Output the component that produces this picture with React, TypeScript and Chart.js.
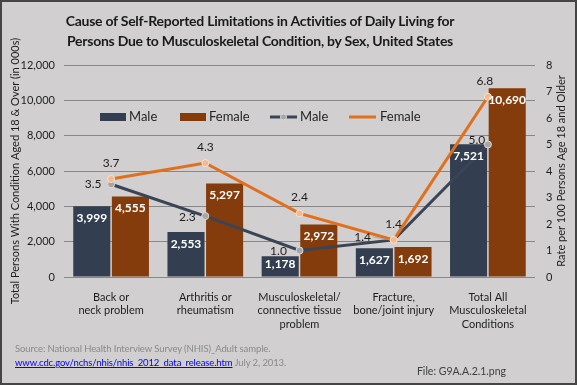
import React, { useEffect, useRef } from 'react';
import { Chart, registerables } from 'chart.js';

Chart.register(...registerables);

const categories: string[][] = [
  ['Back or', 'neck problem'],
  ['Arthritis or', 'rheumatism'],
  ['Musculoskeletal/', 'connective tissue', 'problem'],
  ['Fracture,', 'bone/joint injury'],
  ['Total All', 'Musculoskeletal', 'Conditions'],
];
const maleCounts = [3999, 2553, 1178, 1627, 7521];
const femaleCounts = [4555, 5297, 2972, 1692, 10690];
const maleRates = [3.5, 2.3, 1.0, 1.4, 5.0];
const femaleRates = [3.7, 4.3, 2.4, 1.4, 6.8];
const countAxisMax = 12000;
const countAxisStep = 2000;
const rateAxisMax = 8;
const rateAxisStep = 1;

const FONT = 'Lato, "Noto Sans", sans-serif';
const MALE_BAR = '#333f50';
const FEMALE_BAR = '#843c0c';
const MALE_LINE = '#3a4457';
const FEMALE_LINE = '#e0701e';
const TEXT = '#1e1e1e';

// label offsets for male rate labels (dx, dy) relative to point
const maleLabelOffsets = [[-18, 0], [-18, 1], [-21, 1], [-31, -3], [-11, -4]];

const labelPlugin = {
  id: 'customLabels',
  afterDatasetsDraw(chart: any) {
    const ctx = chart.ctx;
    ctx.save();
    ctx.textAlign = 'center';
    ctx.textBaseline = 'middle';
    // bar labels
    [0, 1].forEach((di) => {
      const meta = chart.getDatasetMeta(di);
      const data = chart.data.datasets[di].data as number[];
      meta.data.forEach((el: any, i: number) => {
        ctx.font = `bold 12px ${FONT}`;
        ctx.fillStyle = '#ffffff';
        const y = Math.min(el.y + 12, el.base - 12);
        ctx.fillText(data[i].toLocaleString('en-US'), el.x, y);
      });
    });
    // line labels
    ctx.font = `12px ${FONT}`;
    ctx.fillStyle = TEXT;
    const mMeta = chart.getDatasetMeta(2);
    mMeta.data.forEach((el: any, i: number) => {
      const [dx, dy] = maleLabelOffsets[i];
      ctx.fillText(maleRates[i].toFixed(1), el.x + dx, el.y + dy);
      if (i === 3) {
        ctx.strokeStyle = '#a0a0a0';
        ctx.lineWidth = 0.8;
        ctx.beginPath();
        ctx.moveTo(el.x + dx + 10, el.y + dy);
        ctx.lineTo(el.x - 4, el.y);
        ctx.stroke();
      }
    });
    const fMeta = chart.getDatasetMeta(3);
    fMeta.data.forEach((el: any, i: number) => {
      const dx = i === 4 ? -3 : 0;
      ctx.fillText(femaleRates[i].toFixed(1), el.x + dx, el.y - 16);
    });
    ctx.restore();
  },
  afterDraw(chart: any) {
    const ctx = chart.ctx;
    const area = chart.chartArea;
    const y = area.top + 52;
    ctx.save();
    ctx.font = `13px ${FONT}`;
    ctx.fillStyle = '#262626';
    ctx.textBaseline = 'middle';
    ctx.textAlign = 'left';
    // Male bar
    ctx.fillStyle = MALE_BAR;
    ctx.fillRect(100, y - 4, 26, 8);
    ctx.fillStyle = '#262626';
    ctx.fillText('Male', 129, y);
    // Female bar
    ctx.fillStyle = FEMALE_BAR;
    ctx.fillRect(180, y - 4, 26, 8);
    ctx.fillStyle = '#262626';
    ctx.fillText('Female', 209, y);
    // Male line
    ctx.strokeStyle = MALE_LINE;
    ctx.lineWidth = 3;
    ctx.beginPath();
    ctx.moveTo(270, y);
    ctx.lineTo(297, y);
    ctx.stroke();
    ctx.fillStyle = '#a6a6a6';
    ctx.strokeStyle = '#d9d9d9';
    ctx.lineWidth = 1;
    ctx.beginPath();
    ctx.arc(283.5, y, 3, 0, Math.PI * 2);
    ctx.fill();
    ctx.stroke();
    ctx.fillStyle = '#262626';
    ctx.fillText('Male', 300, y);
    // Female line
    ctx.strokeStyle = FEMALE_LINE;
    ctx.lineWidth = 3;
    ctx.beginPath();
    ctx.moveTo(349, y);
    ctx.lineTo(376, y);
    ctx.stroke();
    ctx.fillStyle = '#262626';
    ctx.fillText('Female', 380, y);
    // right axis title (reads bottom to top)
    ctx.translate(561, (area.top + area.bottom) / 2);
    ctx.rotate(-Math.PI / 2);
    ctx.font = `11px ${FONT}`;
    ctx.fillStyle = TEXT;
    ctx.textAlign = 'center';
    ctx.fillText('Rate per 100 Persons Age 18 and Older', 0, 0);
    ctx.restore();
  },
};

export default function App() {
  const ref = useRef<HTMLCanvasElement>(null);
  useEffect(() => {
    if (!ref.current) return;
    const chart = new Chart(ref.current, {
      type: 'bar',
      data: {
        labels: categories as any,
        datasets: [
          {
            type: 'bar',
            label: 'Male',
            data: maleCounts,
            backgroundColor: MALE_BAR,
            yAxisID: 'y',
            order: 3,
            barPercentage: 0.96,
            categoryPercentage: 0.82,
          },
          {
            type: 'bar',
            label: 'Female',
            data: femaleCounts,
            backgroundColor: FEMALE_BAR,
            yAxisID: 'y',
            order: 3,
            barPercentage: 0.96,
            categoryPercentage: 0.82,
          },
          {
            type: 'line',
            label: 'Male',
            data: maleRates,
            borderColor: MALE_LINE,
            borderWidth: 3,
            pointRadius: 3.5,
            pointBackgroundColor: '#a6a6a6',
            pointBorderColor: '#dcdcdc',
            pointBorderWidth: 1,
            yAxisID: 'y1',
            order: 2,
            tension: 0,
          } as any,
          {
            type: 'line',
            label: 'Female',
            data: femaleRates,
            borderColor: FEMALE_LINE,
            borderWidth: 3,
            pointRadius: 3.5,
            pointBackgroundColor: '#f6b98e',
            pointBorderColor: '#fbe0cc',
            pointBorderWidth: 1,
            yAxisID: 'y1',
            order: 1,
            tension: 0,
          } as any,
        ],
      },
      options: {
        responsive: false,
        animation: false,
        devicePixelRatio: 1,
        layout: { padding: { top: 65, bottom: 48, left: 0, right: 0 } },
        plugins: {
          legend: { display: false },
          tooltip: { enabled: false },
          title: { display: false },
        },
        scales: {
          x: {
            grid: { display: false },
            border: { display: false },
            ticks: {
              color: TEXT,
              font: { family: FONT, size: 11 },
              padding: 6,
              maxRotation: 0,
              autoSkip: false,
            },
            afterFit(scale: any) {
              scale.height = 60;
            },
          },
          y: {
            position: 'left',
            min: 0,
            max: countAxisMax,
            ticks: {
              stepSize: countAxisStep,
              color: TEXT,
              font: { family: FONT, size: 11 },
              padding: 9,
              callback: (v: any) => Number(v).toLocaleString('en-US'),
            },
            grid: { color: '#878787', lineWidth: 1, drawTicks: false },
            border: { display: false },
            title: {
              display: true,
              text: 'Total Persons With Condition Aged 18 & Over (in 000s)',
              color: TEXT,
              font: { family: FONT, size: 11 },
              padding: { top: 9, bottom: 0 },
            },
            afterFit(scale: any) {
              scale.width = 64;
            },
          },
          y1: {
            position: 'right',
            min: 0,
            max: rateAxisMax,
            ticks: {
              stepSize: rateAxisStep,
              color: TEXT,
              font: { family: FONT, size: 11 },
              padding: 11,
            },
            grid: { display: false, drawTicks: false },
            border: { display: false },
            afterFit(scale: any) {
              scale.width = 42;
            },
          },
        },
      },
      plugins: [labelPlugin],
    });
    return () => chart.destroy();
  }, []);

  return (
    <div
      style={{
        position: 'fixed',
        left: 0,
        top: 0,
        width: 577,
        height: 385,
        background: '#d1cfcf',
        fontFamily: FONT,
        overflow: 'hidden',
      }}
    >
      <canvas ref={ref} width={577} height={385} style={{ position: 'absolute', left: 0, top: 0 }} />
      <div
        style={{
          position: 'absolute',
          left: 0,
          top: 11,
          width: 520,
          textAlign: 'center',
          fontWeight: 'bold',
          fontSize: 14,
          letterSpacing: '-0.25px',
          lineHeight: '20px',
          color: '#1a1a1a',
          whiteSpace: 'nowrap',
        }}
      >
        Cause of Self-Reported Limitations in Activities of Daily Living for
        <br />
        Persons Due to Musculoskeletal Condition, by Sex, United States
      </div>
      <div
        style={{
          position: 'absolute',
          left: 15,
          top: 342,
          fontSize: 9.5,
          letterSpacing: '-0.1px',
          lineHeight: '14px',
          color: '#8a8a8a',
          whiteSpace: 'nowrap',
        }}
      >
        Source: National Health Interview Survey (NHIS)_Adult sample.
        <br />
        <span style={{ color: '#0000ff', textDecoration: 'underline' }}>
          www.cdc.gov/nchs/nhis/nhis_2012_data_release.htm
        </span>{' '}
        July 2, 2013.
      </div>
      <div
        style={{
          position: 'absolute',
          right: 71,
          top: 364,
          fontSize: 10.5,
          lineHeight: '14px',
          color: '#404040',
          whiteSpace: 'nowrap',
        }}
      >
        File: G9A.A.2.1.png
      </div>
      <div
        style={{
          position: 'absolute',
          left: 0,
          top: 0,
          width: 577,
          height: 385,
          boxSizing: 'border-box',
          border: '2px solid #454545',
          pointerEvents: 'none',
        }}
      />
    </div>
  );
}
